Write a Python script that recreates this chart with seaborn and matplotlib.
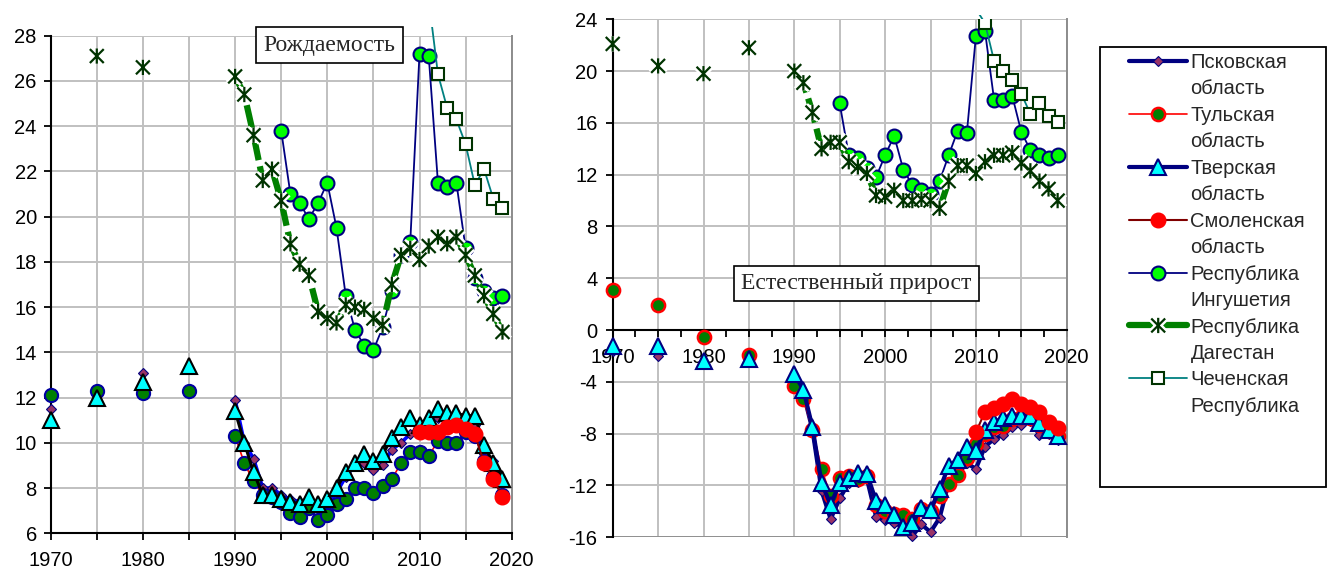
import numpy as np
import matplotlib
matplotlib.use("Agg")
import matplotlib.pyplot as plt
import matplotlib.patheffects as pe
import seaborn as sns
from matplotlib.path import Path
from matplotlib.lines import Line2D
from matplotlib.patches import Rectangle
from matplotlib.ticker import MultipleLocator, FuncFormatter
from matplotlib.transforms import Bbox, TransformedBbox

nan = np.nan

# ---- data ----
years_old = [1970, 1975, 1980, 1985]
years = list(range(1990, 2020))

# Рождаемость (left panel)
pskov_b_old = [11.5, nan, 13.1, nan]
tula_b_old = [12.1, 12.3, 12.2, 12.3]
tver_b_old = [11.0, 12.0, 12.7, 13.4]
dag_b_old = [nan, 27.1, 26.6, nan]

pskov_b = [11.9, 10.0, 9.3, 8.0, 8.0, 7.7, 7.5, 7.4, 7.4, 7.1, 7.2, 7.8, 8.5, 9.0, 9.1,
           8.8, 9.0, 9.7, 10.0, 10.4, 10.5, 10.8, 11.1, 11.1, 11.0, 11.0, 10.8, 9.5, 9.2, 8.3]
tula_b = [10.3, 9.1, 8.3, 7.7, 7.6, 7.4, 6.9, 6.7, 7.1, 6.6, 6.8, 7.3, 7.5, 8.0, 8.0,
          7.8, 8.1, 8.4, 9.1, 9.6, 9.6, 9.4, 10.1, 10.0, 10.0, 10.5, 10.3, 9.2, 8.5, 7.7]
tver_b = [11.4, 10.0, 8.7, 7.7, 7.7, 7.5, 7.4, 7.3, 7.6, 7.3, 7.5, 8.0, 8.7, 9.1, 9.5,
          9.2, 9.5, 10.2, 10.7, 11.1, 10.8, 11.1, 11.5, 11.3, 11.3, 11.2, 11.2, 9.9, 9.1, 8.4]
smol_b = [nan] * 20 + [10.5, 10.5, 10.5, 10.7, 10.8, 10.6, 10.4, 9.1, 8.4, 7.6]
ing_b = [nan] * 5 + [23.8, 21.0, 20.6, 19.9, 20.6, 21.5, 19.5, 16.5, 15.0, 14.3,
                     14.1, 15.1, 16.7, 18.3, 18.9, 27.2, 27.1, 21.5, 21.3, 21.5,
                     18.6, 17.3, 16.7, 16.4, 16.5]
dag_b = [26.2, 25.4, 23.6, 21.6, 22.1, 20.7, 18.8, 17.9, 17.4, 15.8, 15.5, 15.3, 16.1, 16.0, 15.9,
         15.5, 15.2, 17.0, 18.3, 18.6, 18.1, 18.7, 19.1, 18.8, 19.1, 18.3, 17.4, 16.5, 15.7, 14.9]
chech_b = [nan] * 21 + [29.6, 26.3, 24.8, 24.3, 23.2, 21.4, 22.1, 20.8, 20.4]

# Естественный прирост (right panel)
pskov_n_old = [-1.6, -2.0, -2.6, -2.5]
tula_n_old = [3.1, 1.9, -0.5, -1.9]
tver_n_old = [-1.2, -1.2, -2.4, -2.2]
dag_n_old = [22.1, 20.4, 19.8, 21.8]

pskov_n = [-3.7, -4.9, -7.7, -12.4, -14.6, -13.0, -11.8, -11.7, -11.5, -14.4, -14.7, -14.9, -15.2, -15.9, -15.0,
           -15.6, -14.5, -11.8, -11.1, -10.3, -10.7, -9.0, -8.4, -8.1, -7.5, -7.3, -7.0, -8.1, -8.0, -8.5]
tula_n = [-4.3, -5.3, -7.7, -10.7, -12.8, -11.4, -11.3, -11.5, -11.3, -13.5, -14.0, -14.2, -14.3, -14.6, -13.8,
          -14.0, -12.8, -11.9, -11.2, -9.9, -8.8, -8.0, -7.5, -7.4, -6.9, -6.7, -6.8, -7.3, -7.8, -8.2]
tver_n = [-3.4, -4.6, -7.5, -11.8, -13.5, -11.8, -11.4, -11.0, -11.1, -13.2, -13.5, -14.3, -15.2, -14.9, -13.7,
          -13.9, -12.3, -10.5, -10.0, -9.0, -9.3, -7.7, -7.1, -6.8, -6.6, -6.6, -6.6, -7.2, -7.7, -8.2]
smol_n = [nan] * 20 + [-7.9, -6.3, -6.05, -5.7, -5.3, -5.7, -5.9, -6.3, -7.1, -7.55]
ing_n = [nan] * 5 + [17.5, 13.5, 13.3, 12.5, 11.8, 13.5, 15.0, 12.4, 11.2, 10.8,
                     10.5, 11.5, 13.5, 15.4, 15.2, 22.7, 23.1, 17.8, 17.8, 18.1,
                     15.3, 13.9, 13.5, 13.3, 13.5]
dag_n = [20.0, 19.1, 16.8, 14.0, 14.5, 14.5, 13.0, 12.6, 12.1, 10.4, 10.3, 10.8, 10.0, 10.0, 10.1,
         10.0, 9.4, 11.5, 12.7, 12.7, 12.1, 13.0, 13.5, 13.5, 13.7, 12.9, 12.3, 11.5, 10.9, 10.0]
chech_n = [nan] * 20 + [24.8, 23.7, 20.8, 20.0, 19.35, 18.25, 16.7, 17.5, 16.5, 16.1]

labels = [("Псковская", "область"), ("Тульская", "область"), ("Тверская", "область"),
          ("Смоленская", "область"), ("Республика", "Ингушетия"),
          ("Республика", "Дагестан"), ("Чеченская", "Республика")]

# ---- styles ----
sns.set_style("white")
plt.rcParams["font.family"] = ["Liberation Sans", "DejaVu Sans"]
plt.rcParams["axes.unicode_minus"] = False

star = Path([(-1, -1), (1, 1), (-1, 1), (1, -1), (0, -1.1), (0, 1.1)],
            [Path.MOVETO, Path.LINETO, Path.MOVETO, Path.LINETO, Path.MOVETO, Path.LINETO])

def st(color, lw, marker, ms, mfc, mec, mew, ls="-"):
    return dict(color=color, lw=lw, marker=marker, ms=ms, mfc=mfc, mec=mec, mew=mew, ls=ls)

left_st = [st("#0000ff", 2.6, "D", 5.5, "#993366", "#000080", 0.8),
           st("#ff0000", 1.2, "o", 9.5, "#008000", "#0000a0", 1.5),
           st("#000000", 2.2, "^", 11, "#00ffff", "#000000", 1.5),
           st("#800000", 1.5, "o", 10.5, "#ff0000", "#ff0000", 1.0),
           st("#000080", 1.3, "o", 10, "#00ff00", "#000080", 1.5),
           st("#008000", 4.5, star, 11, "none", "#003300", 1.6, (0, (4, 1))),
           st("#008080", 1.3, "s", 9, "white", "#003300", 1.5)]
right_st = [st("#000080", 3.0, "D", 5.5, "#993366", "#000080", 0.8),
            st("#ff0000", 1.2, "o", 9.5, "#008000", "#ff0000", 1.8),
            st("#000080", 3.0, "^", 11, "#00ffff", "#000080", 1.5),
            st("#800000", 1.5, "o", 10.5, "#ff0000", "#ff0000", 1.0),
            st("#000080", 1.3, "o", 10, "#00ff00", "#000080", 1.5),
            st("#008000", 4.5, star, 11, "none", "#003300", 1.6, (0, (4, 1))),
            st("#008080", 1.3, "s", 9, "white", "#003300", 1.5)]
halo = [pe.Stroke(linewidth=5, foreground="white"), pe.Normal()]


def draw(ax, x, y, s, connect=True, clip=None, use_halo=False):
    if connect:
        sns.lineplot(x=x, y=y, ax=ax, estimator=None, errorbar=None, sort=False, legend=False,
                     color=s["color"], linewidth=s["lw"], linestyle=s["ls"], zorder=3)
        if clip is not None:
            ln = ax.lines[-1]
            ln.set_clip_path(None)
            ln.set_clip_box(TransformedBbox(Bbox([[1960, clip[0]], [2030, clip[1]]]), ax.transData))
    extra = {"path_effects": halo} if use_halo else {}
    sns.lineplot(x=x, y=y, ax=ax, estimator=None, errorbar=None, sort=False, legend=False,
                 color=s["color"], linestyle="", marker=s["marker"], markersize=s["ms"],
                 markerfacecolor=s["mfc"], markeredgecolor=s["mec"], markeredgewidth=s["mew"],
                 zorder=3, clip_on=(clip is not None), **extra)


def fmt_year(v, p):
    v = int(round(v))
    return str(v) if v % 10 == 0 else ""


fig = plt.figure(figsize=(13.28, 5.75), dpi=100)

# ---- left panel ----
ax1 = fig.add_axes([0.03818, 0.07252, 0.34714, 0.86539])
series_b = [(pskov_b_old, pskov_b), (tula_b_old, tula_b), (tver_b_old, tver_b), (None, smol_b),
            (None, ing_b), (dag_b_old, dag_b), (None, chech_b)]
for i, (old, new) in enumerate(series_b):
    s = left_st[i]
    if old is not None:
        draw(ax1, years_old, old, s, connect=False, use_halo=(i == 5))
    draw(ax1, years, new, s, clip=(5, 28.4) if i == 6 else None, use_halo=(i == 5))

ax1.set_xlim(1970, 2020)
ax1.set_ylim(6, 28)
ax1.xaxis.set_major_locator(MultipleLocator(5))
ax1.xaxis.set_major_formatter(FuncFormatter(fmt_year))
ax1.yaxis.set_major_locator(MultipleLocator(2))
ax1.grid(True, color="#c0c0c0", lw=1.4)
ax1.set_axisbelow(True)
ax1.tick_params(axis="both", direction="out", length=5, width=1.3, colors="black", labelsize=14.5)
ax1.tick_params(axis="x", pad=8, bottom=True)
ax1.tick_params(axis="y", pad=5, left=True)
for side in ["left", "bottom"]:
    ax1.spines[side].set_color("black")
    ax1.spines[side].set_linewidth(1.5)
ax1.spines["right"].set_color("#8c8c8c")
ax1.spines["right"].set_linewidth(1.4)
ax1.spines["top"].set_visible(False)
ax1.set_xlabel("")
ax1.set_ylabel("")
ax1.text(0.6048, 0.9813, "Рождаемость", transform=ax1.transAxes, ha="center", va="center",
         fontsize=17, family="Liberation Serif", zorder=6,
         bbox=dict(boxstyle="square,pad=0.3", fc="white", ec="black", lw=1.2))

# ---- right panel ----
ax2 = fig.add_axes([0.46137, 0.06557, 0.34187, 0.90087])
series_n = [(pskov_n_old, pskov_n), (tula_n_old, tula_n), (tver_n_old, tver_n), (None, smol_n),
            (None, ing_n), (dag_n_old, dag_n), (None, chech_n)]
for i, (old, new) in enumerate(series_n):
    s = right_st[i]
    if old is not None:
        draw(ax2, years_old, old, s, connect=False, use_halo=(i == 5))
    draw(ax2, years, new, s, clip=(-17, 24.3) if i == 6 else None, use_halo=(i == 5))

ax2.set_xlim(1970, 2020)
ax2.set_ylim(-16, 24)
ax2.xaxis.set_major_locator(MultipleLocator(5))
ax2.xaxis.set_minor_locator(MultipleLocator(2.5))
ax2.xaxis.set_major_formatter(FuncFormatter(fmt_year))
ax2.yaxis.set_major_locator(MultipleLocator(4))
ax2.grid(True, which="major", color="#c0c0c0", lw=1.4)
ax2.set_axisbelow(True)
ax2.tick_params(axis="both", which="both", direction="out", length=5, width=1.3,
                colors="black", labelsize=14.5)
ax2.tick_params(axis="x", which="both", pad=8, bottom=True)
ax2.tick_params(axis="y", pad=6, left=True)
ax2.spines["bottom"].set_position(("data", 0))
for side in ["left", "bottom"]:
    ax2.spines[side].set_color("black")
    ax2.spines[side].set_linewidth(1.5)
ax2.spines["right"].set_color("#8c8c8c")
ax2.spines["right"].set_linewidth(1.4)
ax2.spines["top"].set_visible(False)
ax2.axhline(ax2.get_ylim()[0], color="#8c8c8c", lw=2.0, zorder=0.6)
ax2.set_xlabel("")
ax2.set_ylabel("")
ax2.text(0.537, 0.49, "Естественный прирост", transform=ax2.transAxes, ha="center", va="center",
         fontsize=17, family="Liberation Serif", zorder=6,
         bbox=dict(boxstyle="square,pad=0.3", fc="white", ec="black", lw=1.2))

# ---- legend ----
handles, texts = [], []
for i, (l1, l2) in enumerate(labels):
    s = right_st[i]
    h = Line2D([0], [0], color=s["color"], lw=s["lw"], linestyle=s["ls"], marker=s["marker"],
               markersize=s["ms"], markerfacecolor=s["mfc"], markeredgecolor=s["mec"],
               markeredgewidth=s["mew"])
    if i == 5:
        h.set_linestyle("-")
        h.set_path_effects(halo)
    handles += [h, Line2D([0], [0], color="none")]
    texts += [l1, l2]

fig.patches.append(Rectangle((1100 / 1328, 1 - 487 / 575), 226 / 1328, 440 / 575,
                             transform=fig.transFigure, fill=False, ec="black", lw=1.3))
fig.legend(handles, texts, loc="upper left", bbox_to_anchor=(1129 / 1328, 1 - 53 / 575),
           frameon=False, borderpad=0, borderaxespad=0, handlelength=2.9, handletextpad=0.15,
           labelspacing=0.37, fontsize=14.5)

fig.savefig("out.png", dpi=100)
